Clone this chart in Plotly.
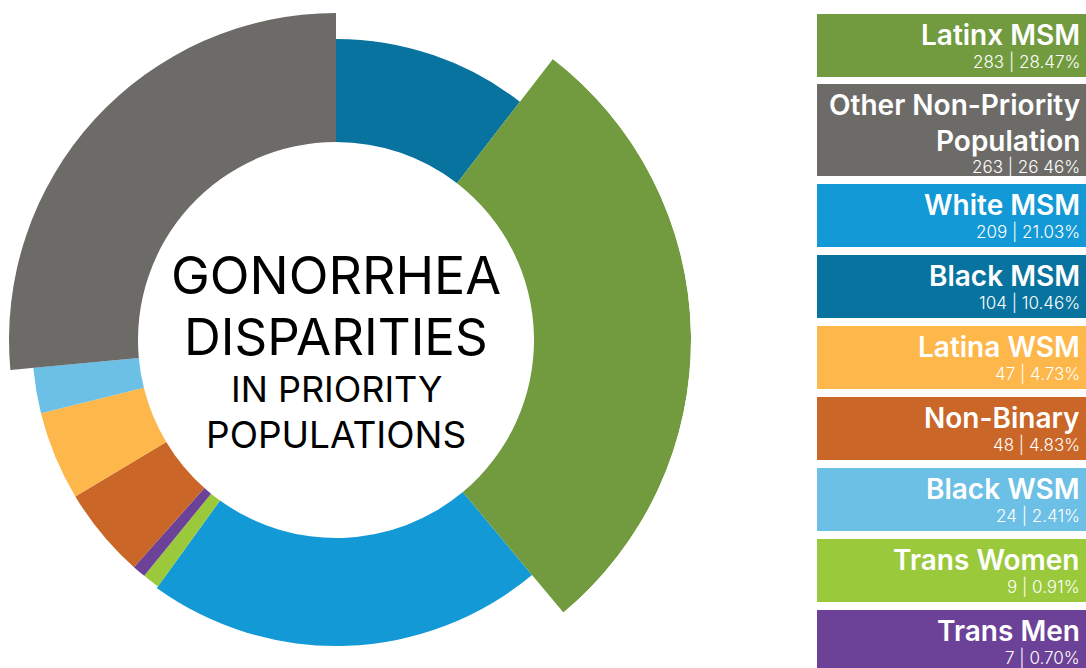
import math
import plotly.graph_objects as go

# ---------------- data ----------------
categories = ["Latinx MSM", "Other Non-Priority Population", "White MSM", "Black MSM",
              "Latina WSM", "Non-Binary", "Black WSM", "Trans Women", "Trans Men"]
counts = [283, 263, 209, 104, 47, 48, 24, 9, 7]
pct_labels = ["28.47%", "26 46%", "21.03%", "10.46%", "4.73%", "4.83%", "2.41%", "0.91%", "0.70%"]
legend_titles = ["Latinx MSM", "Other Non-Priority<br>Population", "White MSM", "Black MSM",
                 "Latina WSM", "Non-Binary", "Black WSM", "Trans Women", "Trans Men"]
# order of slices clockwise from 12 o'clock
ring_order = ["Black MSM", "Latinx MSM", "White MSM", "Trans Women", "Trans Men",
              "Non-Binary", "Latina WSM", "Black WSM", "Other Non-Priority Population"]

title_lines = ["GONORRHEA", "DISPARITIES", "IN PRIORITY", "POPULATIONS"]

# ---------------- style ----------------
colors = {
    "Latinx MSM": "#729B40",
    "Other Non-Priority Population": "#6D6B67",
    "White MSM": "#1399D6",
    "Black MSM": "#08739F",
    "Latina WSM": "#FDB74A",
    "Non-Binary": "#C96628",
    "Black WSM": "#6CC0E5",
    "Trans Women": "#9BC93C",
    "Trans Men": "#6C4198",
}
outer_r = {
    "Latinx MSM": 355, "Other Non-Priority Population": 327, "White MSM": 306,
    "Black MSM": 301, "Latina WSM": 304, "Non-Binary": 304, "Black WSM": 304,
    "Trans Women": 304, "Trans Men": 304,
}
INNER_R = 198
W, H = 1086, 668
CX, CY = 336, 340
R_PX = 328          # radius of the main polar subplot in pixels (1 radial unit = 1 px)


def px(x):
    return x / W


def py(y):
    return 1 - y / H


# ---------------- ring ----------------
total = sum(counts)
idx = {c: i for i, c in enumerate(categories)}
main = dict(theta=[], width=[], r=[], color=[])
big = dict(theta=[], width=[], r=[], color=[], start=[], end=[])
acc = 0.0
for name in ring_order:
    w = counts[idx[name]] / total * 360.0
    tgt = big if outer_r[name] > R_PX else main
    tgt["theta"].append(acc + w / 2)
    tgt["width"].append(w)
    tgt["r"].append(outer_r[name] - INNER_R)
    tgt["color"].append(colors[name])
    if tgt is big:
        tgt["start"].append(acc)
        tgt["end"].append(acc + w)
    acc += w

fig = go.Figure()
fig.add_trace(go.Barpolar(
    theta=main["theta"], width=main["width"], r=main["r"], base=[INNER_R] * len(main["r"]),
    marker=dict(color=main["color"], line=dict(width=0)),
    hoverinfo="skip", showlegend=False, subplot="polar",
))
fig.add_trace(go.Barpolar(
    theta=big["theta"], width=big["width"], r=big["r"], base=[INNER_R] * len(big["r"]),
    marker=dict(color=big["color"], line=dict(width=0)),
    hoverinfo="skip", showlegend=False, subplot="polar2",
))

# second polar subplot: a partial sector (same centre & scale) for the oversized slice
R2 = max(outer_r.values())
s_lo = 90 - max(big["end"]) - 1.0   # standard (counter-clockwise from east) angles
s_hi = 90 - min(big["start"]) + 1.0
def _bbox(a0, a1):
    xs = [0, math.cos(math.radians(a0)), math.cos(math.radians(a1))]
    ys = [0, math.sin(math.radians(a0)), math.sin(math.radians(a1))]
    for k in range(-360, 721, 90):
        if a0 <= k <= a1:
            xs.append(math.cos(math.radians(k)))
            ys.append(math.sin(math.radians(k)))
    return min(xs), min(ys), max(xs), max(ys)
bx0, by0, bx1, by1 = _bbox(s_lo, s_hi)
d2x = [px(CX + bx0 * R2), px(CX + bx1 * R2)]
d2y = [py(CY - by0 * R2), py(CY - by1 * R2)]

fig.update_layout(
    width=W, height=H,
    margin=dict(l=0, r=0, t=0, b=0),
    paper_bgcolor="white",
    showlegend=False,
    polar=dict(
        domain=dict(x=[px(CX - R_PX), px(CX + R_PX)], y=[py(CY + R_PX), py(CY - R_PX)]),
        bgcolor="rgba(0,0,0,0)",
        radialaxis=dict(range=[0, R_PX], visible=False),
        angularaxis=dict(direction="clockwise", rotation=90, visible=False),
    ),
    polar2=dict(
        domain=dict(x=d2x, y=d2y),
        sector=[s_lo, s_hi],
        bgcolor="rgba(0,0,0,0)",
        radialaxis=dict(range=[0, R2], visible=False),
        angularaxis=dict(direction="clockwise", rotation=90, visible=False),
    ),
)

# ---------------- center title ----------------
title_y = [275, 336, 389, 434]
title_size = [52, 51, 36, 37]
for t, yv, s in zip(title_lines, title_y, title_size):
    fig.add_annotation(x=px(CX), y=py(yv), xref="paper", yref="paper", text=t,
                       showarrow=False, xanchor="center", yanchor="middle",
                       font=dict(family="Inter", size=s, color="black"))

# ---------------- legend boxes ----------------
box_tops = [14, 84, 184, 255, 326, 397, 468, 539, 610]
box_h = [63, 92, 63, 63, 63, 63, 63, 63, 63]
BX0 = 817
TX = 1082
LINE = 35
for i, name in enumerate(categories):
    top = box_tops[i]
    bot = top + box_h[i]
    fig.add_shape(type="rect", xref="paper", yref="paper",
                  x0=px(BX0), x1=1, y0=py(bot), y1=py(top),
                  fillcolor=colors[name], line=dict(width=0), layer="below")
    nlines = legend_titles[i].count("<br>") + 1
    first = top + 21
    last = first + (nlines - 1) * LINE
    fig.add_annotation(x=px(TX), y=py((first + last) / 2), xref="paper", yref="paper",
                       text=legend_titles[i], showarrow=False, xanchor="right", yanchor="middle",
                       align="right",
                       font=dict(family="Inter", size=28, color="white", weight=600))
    fig.add_annotation(x=px(TX), y=py(last + 26.5), xref="paper", yref="paper",
                       text=f"{counts[i]} | {pct_labels[i]}", showarrow=False,
                       xanchor="right", yanchor="middle",
                       font=dict(family="Inter", size=17, color="white", weight=300))

fig.write_html("out.html", config={"displayModeBar": False},
               post_script="document.body.style.margin='0px';")
